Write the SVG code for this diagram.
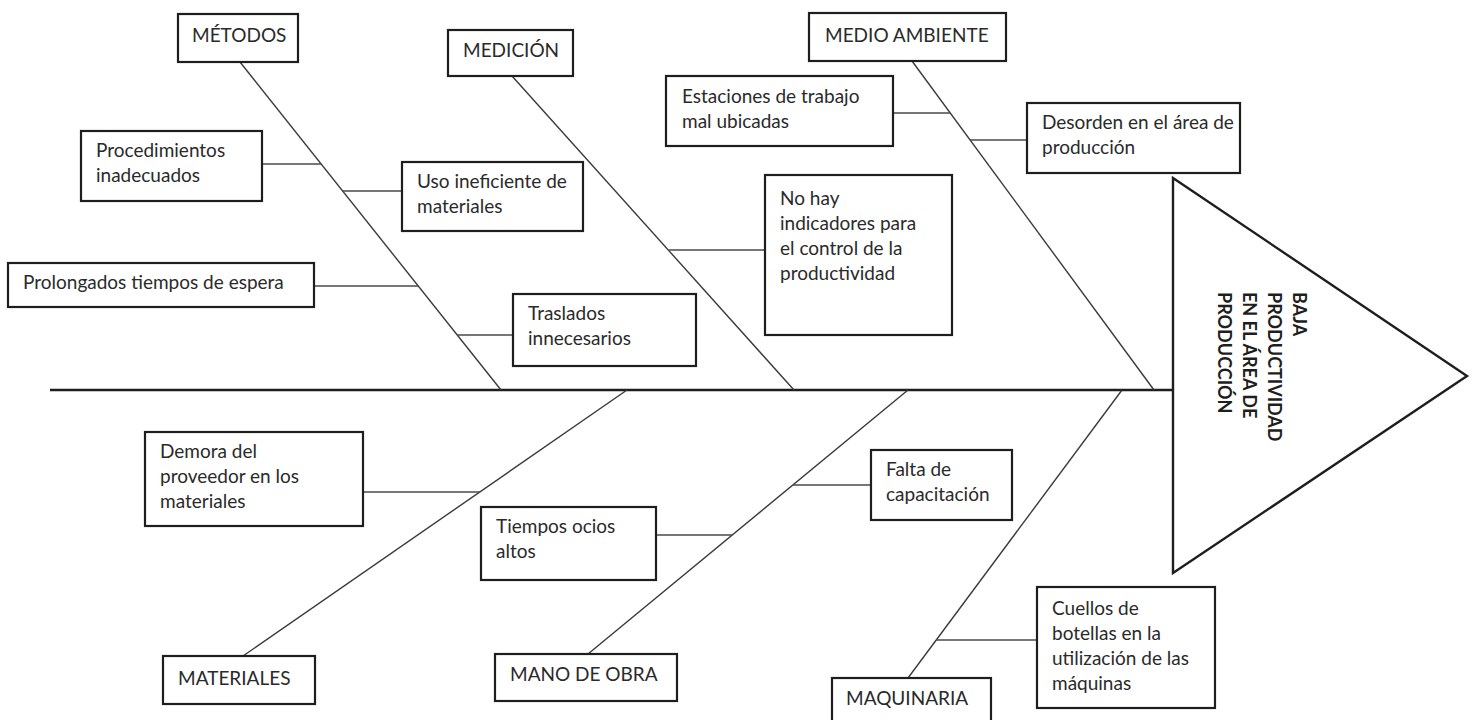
<svg xmlns="http://www.w3.org/2000/svg" width="1475" height="720" viewBox="0 0 1475 720">
<style>
.box{fill:#fff;stroke:#1e1e1e;stroke-width:2.2}
.t{font-family:Lato,"Liberation Sans",sans-serif;font-size:19px;fill:#2a2a2a}
.bone{stroke:#3a3a3a;stroke-width:1.4;fill:none}
.sub{stroke:#4a4a4a;stroke-width:1.3;fill:none}
.spine{stroke:#1e1e1e;stroke-width:2.6;fill:none}
.head{fill:#fff;stroke:#1e1e1e;stroke-width:2.4}
.ht{font-family:Lato,"Liberation Sans",sans-serif;font-size:18px;font-weight:bold;fill:#1e1e1e}
</style>
<rect width="1475" height="720" fill="#fff"/>
<g id="connectors">
<line class="spine" x1="50" y1="390" x2="1173" y2="390"/>
<line class="bone" x1="240" y1="62" x2="501" y2="390"/>
<line class="bone" x1="512" y1="76" x2="794" y2="390"/>
<line class="bone" x1="912" y1="61" x2="1154" y2="390"/>
<line class="bone" x1="627" y1="390" x2="243" y2="656"/>
<line class="bone" x1="908" y1="390" x2="588" y2="654"/>
<line class="bone" x1="1122" y1="390" x2="908" y2="678"/>
<line class="sub" x1="262" y1="164" x2="321" y2="164"/>
<line class="sub" x1="342" y1="191" x2="402" y2="191"/>
<line class="sub" x1="314" y1="286" x2="418" y2="286"/>
<line class="sub" x1="457" y1="335" x2="513" y2="335"/>
<line class="sub" x1="669" y1="250" x2="765" y2="250"/>
<line class="sub" x1="893" y1="113" x2="950" y2="113"/>
<line class="sub" x1="970" y1="140" x2="1027" y2="140"/>
<line class="sub" x1="363" y1="492" x2="480" y2="492"/>
<line class="sub" x1="656" y1="535" x2="732" y2="535"/>
<line class="sub" x1="793" y1="485" x2="871" y2="485"/>
<line class="sub" x1="936" y1="640" x2="1037" y2="640"/>
</g>
<g id="head">
<polygon class="head" points="1173,178 1467,376 1173,573"/>
<text class="ht" transform="translate(1293,292) rotate(90)"><tspan x="0" y="0">BAJA</tspan><tspan x="0" dy="25">PRODUCTIVIDAD</tspan><tspan x="0" dy="25">EN EL ÁREA DE</tspan><tspan x="0" dy="25">PRODUCCIÓN</tspan></text>
</g>
<g id="metodos"><rect class="box" x="178" y="14" width="120" height="48"/><text class="t" x="192" y="42">MÉTODOS</text></g>
<g id="medicion"><rect class="box" x="448" y="30" width="125" height="46"/><text class="t" x="463" y="57">MEDICIÓN</text></g>
<g id="medio_ambiente"><rect class="box" x="809" y="13" width="197" height="48"/><text class="t" x="825" y="42">MEDIO AMBIENTE</text></g>
<g id="procedimientos"><rect class="box" x="81" y="131" width="181" height="70"/><text class="t" x="96" y="157">Procedimientos<tspan x="96" dy="25">inadecuados</tspan></text></g>
<g id="uso_ineficiente"><rect class="box" x="402" y="162" width="181" height="69"/><text class="t" x="417" y="188">Uso ineficiente de<tspan x="417" dy="25">materiales</tspan></text></g>
<g id="prolongados"><rect class="box" x="8" y="263" width="306" height="44"/><text class="t" x="23" y="289">Prolongados tiempos de espera</text></g>
<g id="traslados"><rect class="box" x="513" y="294" width="183" height="72"/><text class="t" x="528" y="320">Traslados<tspan x="528" dy="25">innecesarios</tspan></text></g>
<g id="estaciones"><rect class="box" x="666" y="76" width="227" height="70"/><text class="t" x="682" y="103">Estaciones de trabajo<tspan x="682" dy="25">mal ubicadas</tspan></text></g>
<g id="desorden"><rect class="box" x="1027" y="103" width="213" height="70"/><text class="t" x="1042" y="129">Desorden en el área de<tspan x="1042" dy="25">producción</tspan></text></g>
<g id="no_hay"><rect class="box" x="765" y="175" width="187" height="160"/><text class="t" x="780" y="205">No hay<tspan x="780" dy="25">indicadores para</tspan><tspan x="780" dy="25">el control de la</tspan><tspan x="780" dy="25">productividad</tspan></text></g>
<g id="demora"><rect class="box" x="145" y="432" width="218" height="94"/><text class="t" x="160" y="458">Demora del<tspan x="160" dy="25">proveedor en los</tspan><tspan x="160" dy="25">materiales</tspan></text></g>
<g id="tiempos"><rect class="box" x="481" y="507" width="175" height="73"/><text class="t" x="496" y="533">Tiempos ocios<tspan x="496" dy="25">altos</tspan></text></g>
<g id="falta"><rect class="box" x="871" y="450" width="141" height="70"/><text class="t" x="886" y="476">Falta de<tspan x="886" dy="25">capacitación</tspan></text></g>
<g id="cuellos"><rect class="box" x="1037" y="587" width="178" height="121"/><text class="t" x="1052" y="615">Cuellos de<tspan x="1052" dy="25">botellas en la</tspan><tspan x="1052" dy="25">utilización de las</tspan><tspan x="1052" dy="25">máquinas</tspan></text></g>
<g id="materiales"><rect class="box" x="163" y="656" width="152" height="48"/><text class="t" x="178" y="685">MATERIALES</text></g>
<g id="mano_obra"><rect class="box" x="495" y="654" width="182" height="47"/><text class="t" x="510" y="681">MANO DE OBRA</text></g>
<g id="maquinaria"><rect class="box" x="832" y="678" width="159" height="52"/><text class="t" x="846" y="705">MAQUINARIA</text></g>
</svg>
